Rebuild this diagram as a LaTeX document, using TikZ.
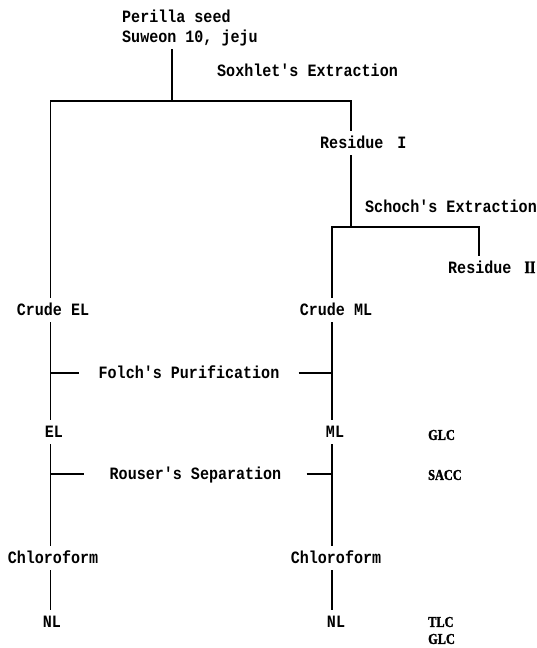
\documentclass[tikz,border=0pt]{standalone}
\usepackage{fontspec}
\newfontfamily\monofnt{Liberation Mono}[FakeStretch=0.87]
\newfontfamily\seriffnt{Liberation Serif Bold}[FakeStretch=0.82, FakeBold=1.5]
\begin{document}
\begin{tikzpicture}[x=1pt,y=-1pt,
  txt/.style={font=\monofnt\bfseries\fontsize{17.3}{20}\selectfont, inner xsep=0pt, inner ysep=7pt, text height=10pt, text depth=0pt},
  lab/.style={font=\seriffnt\fontsize{15}{17}\selectfont, inner sep=0pt, anchor=west},
  ln/.style={line width=1.5pt, line join=miter},
  stub/.style={line width=1.2pt}]
\useasboundingbox (0,0) rectangle (537,648);
\fill[white] (0,0) rectangle (537,648);
% texts
\node[txt, anchor=west] (seedA) at (122,17) {Perilla seed};
\node[txt, anchor=west] (seedB) at (122,37) {Suweon 10, jeju};
\node[txt, anchor=west] (sox) at (217,71) {Soxhlet's Extraction};
\node[txt, anchor=west] (res1) at (320,143) {Residue~\hspace{5pt}I};
\node[txt, anchor=west] (sch) at (365,207) {Schoch's Extraction};
\node[txt, anchor=west] (res2) at (448,268) {Residue\hspace{13pt}{\seriffnt II}};
\node[txt] (crudeEL) at (53,310) {Crude EL};
\node[txt] (crudeML) at (336,310) {Crude ML};
\node[txt, inner xsep=19pt] (folch) at (189,373) {Folch's Purification};
\node[txt] (EL) at (54,432) {EL};
\node[txt] (ML) at (335,432) {ML};
\node[txt, inner xsep=25pt] (rouser) at (195.5,474) {Rouser's Separation};
\node[txt] (chlL) at (53,558) {Chloroform};
\node[txt] (chlR) at (336,558) {Chloroform};
\node[txt] (nlL) at (52,622) {NL};
\node[txt] (nlR) at (336,622) {NL};
\node[lab] (glc1) at (428,435) {GLC};
\node[lab] (sacc) at (428,475) {SACC};
\node[lab] (tlc) at (428,622) {TLC};
\node[lab] (glc2) at (428,639) {GLC};
% junctions
\coordinate (j1) at (172,101);
\coordinate (jl) at (50.5,101);
\coordinate (jr) at (351,101);
\coordinate (j2) at (351,227);
\coordinate (j2l) at (332,227);
\coordinate (j2r) at (479,227);
% connectors
\draw[ln] (seedB.south -| j1) -- (j1);
\draw[ln] (crudeEL.north -| jl) -- (jl) -- (jr) -- (res1.north -| jr);
\draw[ln] (res1.south -| jr) -- (j2);
\draw[ln] (crudeML.north -| j2l) -- (j2l) -- (j2r) -- (res2.north -| j2r);
\draw[ln] (crudeEL.south -| jl) -- (EL.north -| jl);
\draw[ln] (EL.south -| jl) -- (chlL.north -| jl);
\draw[ln] (chlL.south -| jl) -- (nlL.north -| jl);
\draw[ln] (crudeML.south -| j2l) -- (ML.north -| j2l);
\draw[ln] (ML.south -| j2l) -- (chlR.north -| j2l);
\draw[ln] (chlR.south -| j2l) -- (nlR.north -| j2l);
\draw[stub] (folch.west -| jl) -- (folch.west);
\draw[stub] (folch.east) -- (folch.east -| j2l);
\draw[stub] (rouser.west -| jl) -- (rouser.west);
\draw[stub] (rouser.east) -- (rouser.east -| j2l);
\end{tikzpicture}
\end{document}
